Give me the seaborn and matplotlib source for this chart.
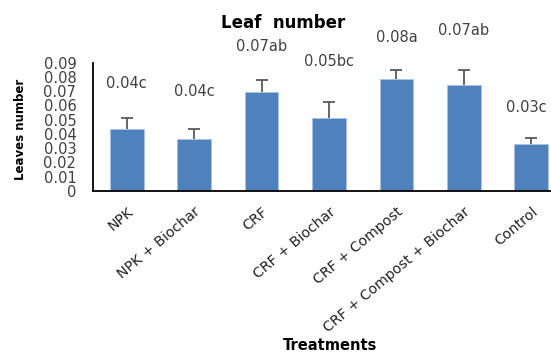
import matplotlib
matplotlib.use("Agg")
import matplotlib.pyplot as plt
import seaborn as sns
import pandas as pd
import numpy as np

categories = ["NPK", "NPK + Biochar", "CRF", "CRF + Biochar", "CRF + Compost",
              "CRF + Compost + Biochar", "Control"]
means = [0.0435, 0.0363, 0.0693, 0.0511, 0.0785, 0.0745, 0.0331]
errors = [0.0076, 0.0070, 0.0087, 0.0116, 0.0065, 0.0105, 0.0044]
labels = ["0.04c", "0.04c", "0.07ab", "0.05bc", "0.08a", "0.07ab", "0.03c"]
label_y = [0.0751, 0.0697, 0.1013, 0.0907, 0.1080, 0.1123, 0.0587]
yticks = [0, 0.01, 0.02, 0.03, 0.04, 0.05, 0.06, 0.07, 0.08, 0.09]
ytick_labels = ["0", "0.01", "0.02", "0.03", "0.04", "0.05", "0.06", "0.07", "0.08", "0.09"]

sns.set_style("white")
plt.rcParams['font.family'] = ['DejaVu Sans']

df = pd.DataFrame({"Treatment": categories, "Value": means})

W, H = 551, 354
fig = plt.figure(figsize=(W / 100, H / 100), dpi=100)
ax = fig.add_axes([93 / W, 1 - 191 / H, 472 / W, 128.3 / H])

sns.barplot(data=df, x="Treatment", y="Value", color="#4F81BD", width=0.5,
            saturation=1, edgecolor="#a9c2e3", linewidth=0.6, ax=ax)

xpos = np.arange(len(categories))
eb = ax.errorbar(xpos, means, yerr=[np.zeros(len(errors)), errors], fmt="none",
                 ecolor="#595959", elinewidth=1.3, capsize=4, capthick=1.3, zorder=3)
caps = eb.lines[1]
if len(caps) == 2:
    caps[0].set_visible(False)

for i, (x, t, y) in enumerate(zip(xpos, labels, label_y)):
    xx = x - 0.08 if i == len(xpos) - 1 else x
    ax.text(xx, y, t, ha="center", va="center", fontsize=10.5, color="#404040",
            clip_on=False)

ax.set_xlim(-0.5, 6.5)
ax.set_ylim(0, 0.09)
ax.set_yticks(yticks)
ax.set_yticklabels(ytick_labels, fontsize=10.5, color="#404040")
ax.set_xticks(xpos)
ax.set_xticklabels(categories, rotation=40, ha="right", rotation_mode="anchor",
                   fontsize=10.2, color="#222222")
ax.tick_params(axis="y", direction="out", length=4, width=1.2, color="black", pad=8)
ax.tick_params(axis="x", length=0, pad=10)
ax.set_xlabel("")
ax.set_ylabel("")
for s in ["top", "right"]:
    ax.spines[s].set_visible(False)
for s in ["left", "bottom"]:
    ax.spines[s].set_color("black")
    ax.spines[s].set_linewidth(1.3)

fig.text(283 / W, 1 - 23 / H, "Leaf  number", ha="center", va="center",
         fontsize=12, fontweight="bold", color="black")
fig.text(21 / W, 1 - 129 / H, "Leaves number", ha="center", va="center",
         rotation=90, fontsize=8.5, fontweight="bold", color="black")
fig.text(330 / W, 1 - 346 / H, "Treatments", ha="center", va="center",
         fontsize=10.5, fontweight="bold", color="black")

fig.savefig("out.png", dpi=100)
